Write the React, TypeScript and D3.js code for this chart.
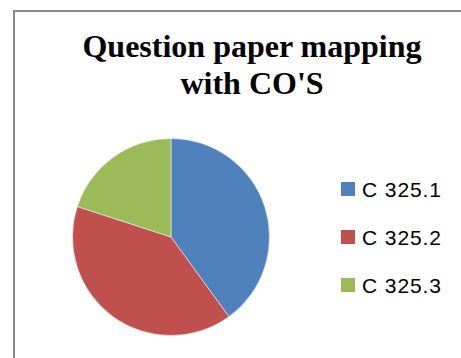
import React from "react";
import * as d3 from "d3";

const categories = ["C 325.1", "C 325.2", "C 325.3"];
const values = [40, 40, 20];
const colors = ["#4F81BD", "#C0504D", "#9BBB59"];
const titleLines = ["Question paper mapping", "with CO'S"];

export default function App() {
  const W = 461;
  const H = 358;
  const cx = 171;
  const cy = 237;
  const r = 98.5;
  const pie = d3.pie<number>().sort(null).value((d) => d)(values);
  const arc = d3.arc<d3.PieArcDatum<number>>().innerRadius(0).outerRadius(r);
  const legendY = d3.scaleBand<string>().domain(categories).range([165, 309]);
  return (
    <svg
      width={W}
      height={H}
      style={{ position: "absolute", left: 0, top: 0, background: "#fff" }}
    >
      <rect x={14} y={11} width={500} height={400} fill="#fff" stroke="#888" strokeWidth={2} />
      {titleLines.map((t, i) => (
        <text
          key={t}
          x={252}
          y={57 + i * 37}
          textAnchor="middle"
          fontFamily="'Liberation Serif', 'Times New Roman', serif"
          fontWeight="bold"
          fontSize={32}
          fill="#000"
        >
          {t}
        </text>
      ))}
      <g transform={`translate(${cx},${cy})`}>
        {pie.map((p, i) => (
          <path key={i} d={arc(p) || ""} fill={colors[i]} stroke="#fff" strokeWidth={0.5} />
        ))}
      </g>
      {categories.map((c, i) => {
        const yc = (legendY(c) as number) + legendY.bandwidth() / 2;
        return (
          <g key={c}>
            <rect x={341} y={yc - 7} width={14} height={14} fill={colors[i]} />
            <text
              x={362}
              y={yc + 7.5}
              fontFamily="'Liberation Sans', Arial, sans-serif"
              fontSize={21}
              textLength={79}
              lengthAdjust="spacing"
              fill="#000"
            >
              {c}
            </text>
          </g>
        );
      })}
    </svg>
  );
}
